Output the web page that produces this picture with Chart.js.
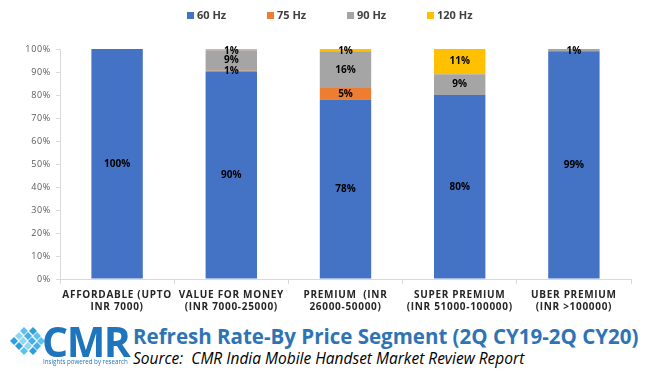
<!DOCTYPE html>
<html lang="en">
  <head>
    <meta charset="UTF-8" />
    <title>Refresh Rate-By Price Segment</title>
    <script src="https://cdn.jsdelivr.net/npm/chart.js"></script>
    <style>
      body {
        margin: 0;
        padding: 0;
        background: #fff;
        font-family: "Open Sans", sans-serif;
      }
      #wrap {
        position: relative;
        width: 648px;
        height: 371px;
        overflow: hidden;
      }
      #chartBox {
        position: absolute;
        left: 0;
        top: 0;
        width: 648px;
        height: 318px;
      }
      #logoIcon {
        position: absolute;
        left: 9px;
        top: 327px;
      }
      #cmr {
        position: absolute;
        left: 42px;
        top: 313px;
        font: bold 41px "Open Sans", sans-serif;
        color: #1e75be;
        letter-spacing: -1.5px;
      }
      #tagline {
        position: absolute;
        left: 43px;
        top: 357px;
        font-size: 6.2px;
        color: #1e75be;
        white-space: nowrap;
      }
      #title {
        position: absolute;
        left: 133px;
        top: 322px;
        font: bold 20.5px "Open Sans", sans-serif;
        color: #2e74b5;
        white-space: nowrap;
      }
      #source {
        position: absolute;
        left: 133px;
        top: 347px;
        font: italic 15.5px "Open Sans", sans-serif;
        color: #000;
        white-space: nowrap;
      }
    </style>
  </head>
  <body>
    <div id="wrap">
      <div id="chartBox"><canvas id="chart"></canvas></div>
      <canvas id="logoIcon" width="36" height="30"></canvas>
      <div id="cmr">CMR</div>
      <div id="tagline">Insights powered by research</div>
      <div id="title">Refresh Rate-By Price Segment (2Q CY19-2Q CY20)</div>
      <div id="source">Source:&nbsp; CMR India Mobile Handset Market Review Report</div>
    </div>

    <script>
      const segments = [
        ["AFFORDABLE (UPTO", "INR 7000)"],
        ["VALUE FOR MONEY", "(INR 7000-25000)"],
        ["PREMIUM  (INR", "26000-50000)"],
        ["SUPER PREMIUM", "(INR 51000-100000)"],
        ["UBER PREMIUM", "(INR >100000)"],
      ];
      const hz60 = [100, 90, 78, 80, 99];
      const hz75 = [0, 0.5, 5, 0, 0];
      const hz90 = [0, 9, 16, 9, 1];
      const hz120 = [0, 0.5, 1, 11, 0];
      const yTicks = [0, 10, 20, 30, 40, 50, 60, 70, 80, 90, 100];

      // little cube cluster of the logo
      const lg = document.getElementById("logoIcon").getContext("2d");
      const cubes = [
        [11, 0], [20, 0], [6, 5], [15, 5], [24, 5],
        [1, 10], [10, 10], [19, 10], [28, 10],
        [6, 15], [15, 15], [24, 15], [11, 20], [20, 20],
      ];
      cubes.forEach(([x, y], k) => {
        lg.fillStyle = ["#5bc2ee", "#2f9fdc", "#8fd6f5", "#45b0e6"][k % 4];
        lg.beginPath();
        lg.moveTo(x, y + 4);
        lg.lineTo(x + 4, y);
        lg.lineTo(x + 8, y + 4);
        lg.lineTo(x + 4, y + 8);
        lg.closePath();
        lg.fill();
      });

      // legend with even spacing, like the original
      const legendPlugin = {
        id: "evenLegend",
        afterDraw(chart) {
          const ctx = chart.ctx;
          ctx.save();
          ctx.font = "bold 11px 'Open Sans', sans-serif";
          ctx.textBaseline = "middle";
          chart.data.datasets.forEach((ds, k) => {
            const x = 187 + k * 80;
            ctx.fillStyle = ds.backgroundColor;
            ctx.fillRect(x, 12, 7, 7);
            ctx.fillStyle = "#404040";
            ctx.fillText(ds.label, x + 10, 16);
          });
          ctx.restore();
        },
      };

      // axis text is spaced a little wider in the original
      const spacingPlugin = {
        id: "axisSpacing",
        beforeDraw(chart) {
          chart.ctx.letterSpacing = "0.7px";
        },
        beforeDatasetsDraw(chart) {
          chart.ctx.letterSpacing = "0px";
        },
      };

      // value labels in the middle of every segment
      const valuePlugin = {
        id: "segmentValues",
        afterDatasetsDraw(chart) {
          const ctx = chart.ctx;
          ctx.save();
          ctx.font = "bold 10px 'Open Sans', sans-serif";
          ctx.textAlign = "center";
          ctx.textBaseline = "middle";
          ctx.fillStyle = "#000";
          chart.data.datasets.forEach((ds, d) => {
            const meta = chart.getDatasetMeta(d);
            meta.data.forEach((bar, k) => {
              const v = ds.data[k];
              if (!v) return;
              const y = Math.max((bar.y + bar.base) / 2, chart.chartArea.top + 2);
              ctx.fillText(Math.round(v) + "%", bar.x, y);
            });
          });
          ctx.restore();
        },
      };

      new Chart(document.getElementById("chart"), {
        type: "bar",
        data: {
          labels: segments,
          datasets: [
            { label: "60 Hz", data: hz60, backgroundColor: "#4472c4" },
            { label: "75 Hz", data: hz75, backgroundColor: "#ed7d31" },
            { label: "90 Hz", data: hz90, backgroundColor: "#a5a5a5" },
            { label: "120 Hz", data: hz120, backgroundColor: "#ffc000" },
          ],
        },
        options: {
          responsive: true,
          maintainAspectRatio: false,
          animation: false,
          layout: { padding: { top: 49, right: 17, left: 0, bottom: 0 } },
          datasets: {
            bar: { categoryPercentage: 1, barPercentage: 0.45, borderWidth: 0 },
          },
          plugins: {
            legend: { display: false },
            tooltip: { enabled: false },
          },
          scales: {
            x: {
              stacked: true,
              afterFit: (s) => (s.height = 39),
              grid: {
                offset: true,
                drawOnChartArea: false,
                tickLength: 5,
                color: "#d9d9d9",
              },
              border: { color: "#d9d9d9" },
              ticks: {
                maxRotation: 0,
                autoSkip: false,
                padding: 5,
                color: "#262626",
                font: { family: "'Open Sans', sans-serif", size: 10, weight: "bold" },
              },
            },
            y: {
              stacked: true,
              min: 0,
              max: 100,
              afterFit: (s) => (s.width = 60),
              afterBuildTicks: (s) => (s.ticks = yTicks.map((v) => ({ value: v }))),
              grid: {
                drawOnChartArea: false,
                tickLength: 4,
                color: "#d9d9d9",
              },
              border: { color: "#d9d9d9" },
              ticks: {
                padding: 5,
                color: "#595959",
                font: { family: "'Open Sans', sans-serif", size: 9 },
                callback: (v) => v + "%",
              },
            },
          },
        },
        plugins: [spacingPlugin, legendPlugin, valuePlugin],
      });
    </script>
  </body>
</html>
